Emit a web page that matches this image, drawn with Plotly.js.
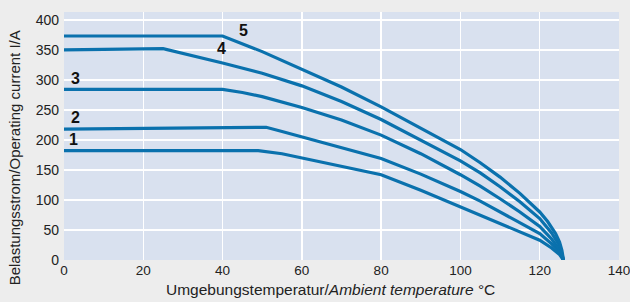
<!DOCTYPE html>
<html>
<head>
<meta charset="utf-8">
<script src="https://cdn.plot.ly/plotly-3.0.1.min.js"></script>
<style>html,body{margin:0;padding:0;background:#ededed;}#chart{width:630px;height:302px;}</style>
</head>
<body>
<div id="chart"></div>
<script>
const curveNames = ["1", "2", "3", "4", "5"];
const temp1 = [0, 49, 55, 60, 70, 80, 90, 100, 105, 110, 115, 120, 123, 125, 126];
const current1 = [182, 182, 177, 170, 157, 142, 116, 88, 75, 61, 47, 33, 20, 9, 0];
const temp2 = [0, 51, 55, 60, 70, 80, 90, 100, 105, 110, 115, 120, 123, 125, 126];
const current2 = [218, 221, 214, 205, 188, 169, 143, 114, 98, 80, 63, 44, 27, 13, 0];
const temp3 = [0, 40, 45, 50, 60, 70, 80, 90, 100, 105, 110, 115, 120, 123, 125, 126];
const current3 = [284, 284, 279, 272, 254, 233, 208, 177, 142, 123, 102, 80, 56, 35, 17, 0];
const temp4 = [0, 25, 40, 50, 60, 70, 80, 90, 100, 105, 110, 115, 120, 123, 125, 126];
const current4 = [350, 352, 328, 311, 290, 264, 234, 200, 165, 145, 122, 97, 69, 45, 24, 0];
const temp5 = [0, 40, 50, 60, 70, 80, 90, 100, 105, 110, 115, 120, 122, 124, 125, 125.6, 126];
const current5 = [373, 373, 347, 318, 288, 255, 220, 184, 162, 138, 111, 80, 64, 44, 30, 16, 0];
const labelX = [2.3, 2.8, 2.8, 39.7, 45.2];
const labelY = [200, 238, 303, 352, 382];
const xTicks = [0, 20, 40, 60, 80, 100, 120, 140];
const yTicks = [0, 50, 100, 150, 200, 250, 300, 350, 400];
const xTitle = "Umgebungstemperatur/<i>Ambient temperature</i> °C";
const yTitle = "Belastungsstrom/Operating current I/A";

const xs = [temp1, temp2, temp3, temp4, temp5];
const ys = [current1, current2, current3, current4, current5];
const lineColor = "#0a71ad";
const fontFam = "'Liberation Sans', Arial, sans-serif";

const traces = xs.map((x, i) => ({
  x: x, y: ys[i], type: "scatter", mode: "lines", name: curveNames[i],
  line: {color: lineColor, width: 3.2, shape: "linear"},
  hoverinfo: "skip", showlegend: false
}));

const annotations = curveNames.map((t, i) => ({
  x: labelX[i], y: labelY[i], xref: "x", yref: "y", text: "<b>" + t + "</b>",
  showarrow: false, font: {family: fontFam, size: 16, color: "#111"}
}));
annotations.push({
  x: 0.48, y: -0.117, xref: "paper", yref: "paper", text: xTitle,
  showarrow: false, xanchor: "center", yanchor: "middle",
  font: {family: fontFam, size: 15.5, color: "#222"}
});
annotations.push({
  x: -0.09, y: 0.41, xref: "paper", yref: "paper", text: yTitle, textangle: -90,
  showarrow: false, xanchor: "center", yanchor: "middle",
  font: {family: fontFam, size: 15, color: "#222"}
});

const layout = {
  width: 630, height: 302,
  margin: {l: 64, r: 11, t: 12, b: 42},
  paper_bgcolor: "#ededed",
  plot_bgcolor: "#d9e1ef",
  font: {family: fontFam, size: 14, color: "#222"},
  xaxis: {
    range: [0, 140], tickvals: xTicks, ticktext: xTicks.map(String),
    showgrid: true, gridcolor: "#ffffff", gridwidth: 1.5, zeroline: false,
    showline: false, ticks: "", tickfont: {size: 13.5}, ticklabeloverflow: "allow"
  },
  yaxis: {
    range: [0, 413], tickvals: yTicks, ticktext: yTicks.map(String),
    showgrid: true, gridcolor: "#ffffff", gridwidth: 1.5, zeroline: false,
    showline: false, ticks: "", tickfont: {size: 14}, ticklabeloverflow: "allow",
    ticklabelstandoff: 4
  },
  annotations: annotations
};

Plotly.newPlot("chart", traces, layout, {staticPlot: true, displayModeBar: false});
</script>
</body>
</html>
